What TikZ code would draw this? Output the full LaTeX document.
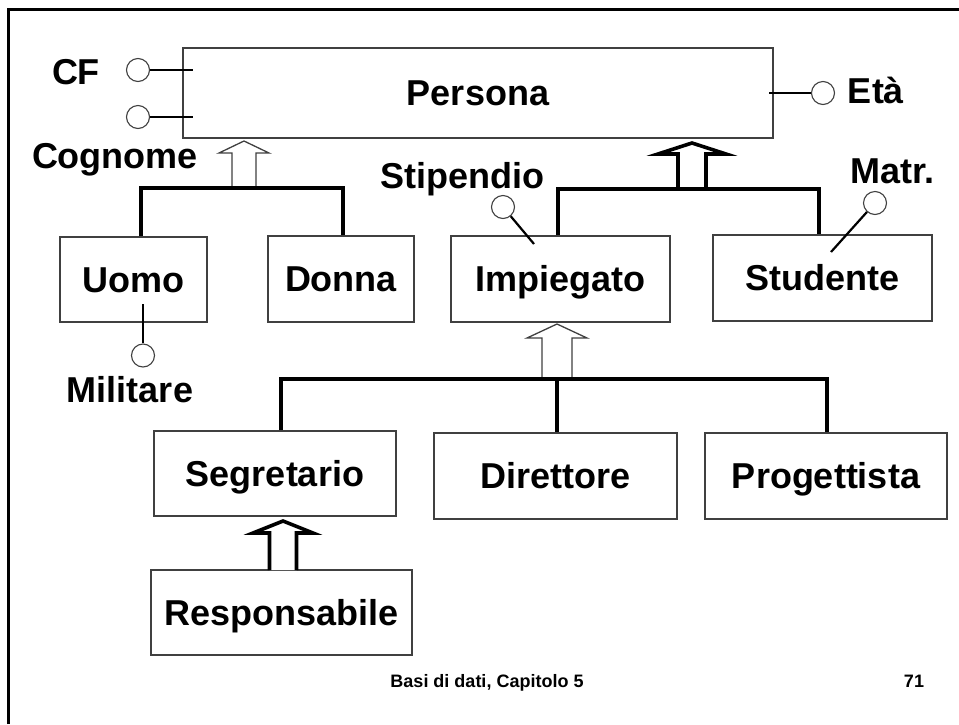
\documentclass[tikz,border=0pt]{standalone}
\usepackage{fontspec}
\setmainfont{Liberation Sans}
\begin{document}
\begin{tikzpicture}[x=1pt,y=-1pt,
  ent/.style={draw=black!75, line width=1.3pt, fill=white, font=\bfseries\fontsize{36}{40}\selectfont, inner sep=0pt, text height=25.8pt, text depth=0pt},
  lbl/.style={font=\bfseries\fontsize{36}{40}\selectfont, inner sep=0pt, anchor=base},
  foot/.style={font=\bfseries\fontsize{18}{20}\selectfont, inner sep=0pt, anchor=base},
  attr/.style={circle, draw=black!75, line width=1.1pt, fill=white, minimum size=23pt, inner sep=0pt},
  link/.style={line width=2.2pt},
  isa/.style={line width=3.6pt, line join=miter},
  hollowthin/.style={draw=black!75, line width=1.3pt, fill=white, line join=miter},
  hollowthick/.style={draw=black, line width=3.6pt, fill=white, line join=miter}]
\useasboundingbox (0,0) rectangle (959,724);
% frame (only top and left visible)
\draw[line width=3pt] (8.5,724) -- (8.5,9) -- (959,9);

% entities
\node[ent, minimum width=590pt, minimum height=90pt] (persona) at (478,93) {Persona};
\node[ent, minimum width=147pt, minimum height=85pt] (uomo) at (133.5,279.5) {Uomo};
\node[ent, minimum width=146pt, minimum height=86pt] (donna) at (341,279) {Donna};
\node[ent, minimum width=219pt, minimum height=86pt] (imp) at (560.5,279) {Impiegato};
\node[ent, minimum width=219pt, minimum height=86pt] (stud) at (822.5,278) {Studente};
\node[ent, minimum width=242pt, minimum height=85pt] (seg) at (275,473.5) {Segretario};
\node[ent, minimum width=243pt, minimum height=86pt] (dir) at (555.5,476) {Direttore};
\node[ent, minimum width=242pt, minimum height=86pt] (prog) at (826,476) {Progettista};
\node[ent, minimum width=261pt, minimum height=85pt] (resp) at (281.5,612.5) {Responsabile};

% generalization 1: Uomo, Donna -> Persona (thin hollow arrow)
\draw[hollowthin] (232,188) -- (232,153) -- (219,153) -- (244,141) -- (269,153) -- (256,153) -- (256,188);
\coordinate (b1l) at (141,188);
\coordinate (b1r) at (343,188);
\draw[isa] (uomo.north -| b1l) -- (b1l) -- (b1r) -- (donna.north -| b1r);

% generalization 2: Impiegato, Studente -> Persona (thick arrow)
\draw[hollowthick] (678,189) -- (678,154) -- (658,154) -- (692,143) -- (726,154) -- (706,154) -- (706,189);
\coordinate (b2l) at (558,189);
\coordinate (b2r) at (819,189);
\draw[isa] (imp.north -| b2l) -- (b2l) -- (b2r) -- (stud.north -| b2r);

% generalization 3: Segretario, Direttore, Progettista -> Impiegato (thin hollow)
\draw[hollowthin] (542,379) -- (542,338) -- (527,338) -- (557,324) -- (587,338) -- (572,338) -- (572,379);
\coordinate (b3l) at (281,379);
\coordinate (b3m) at (557,379);
\coordinate (b3r) at (827,379);
\draw[isa] (seg.north -| b3l) -- (b3l) -- (b3r) -- (prog.north -| b3r);
\draw[isa] (b3m) -- (dir.north -| b3m);

% generalization 4: Responsabile -> Segretario (thick arrow)
\draw[hollowthick] (269.5,570) -- (269.5,533) -- (253,533) -- (283,521) -- (313,533) -- (296.5,533) -- (296.5,570);

% attributes
\node[attr] (cf) at (138,70) {};
\coordinate (cfend) at (193,70);
\draw[link] (cf) -- (cfend);
\node[attr] (cog) at (138,117) {};
\coordinate (cogend) at (193,117);
\draw[link] (cog) -- (cogend);
\node[attr] (eta) at (823,93) {};
\coordinate (etaend) at (769,93);
\draw[link] (etaend) -- (eta);
\node[attr] (mil) at (143,355.5) {};
\coordinate (milend) at (143,304);
\draw[link] (milend) -- (mil);
\node[attr] (stip) at (503,207) {};
\coordinate (stipend) at (534,244);
\draw[link] (stip) -- (stipend);
\node[attr] (matr) at (875,203) {};
\coordinate (matrend) at (831,252);
\draw[link] (matr) -- (matrend);

% attribute labels
\node[lbl] (lcf) at (76,84) {CF};
\node[lbl] (lcog) at (115,168) {Cognome};
\node[lbl] (leta) at (876,103) {Età};
\node[lbl] (lmil) at (130,402) {Militare};
\node[lbl] (lstip) at (462,188) {Stipendio};
\node[lbl, anchor=base west] (lmatr) at (850,183) {Matr.};

% footer
\node[foot] (f1) at (487,687) {Basi di dati, Capitolo 5};
\node[foot] (f2) at (914,687) {71};
\end{tikzpicture}
\end{document}
